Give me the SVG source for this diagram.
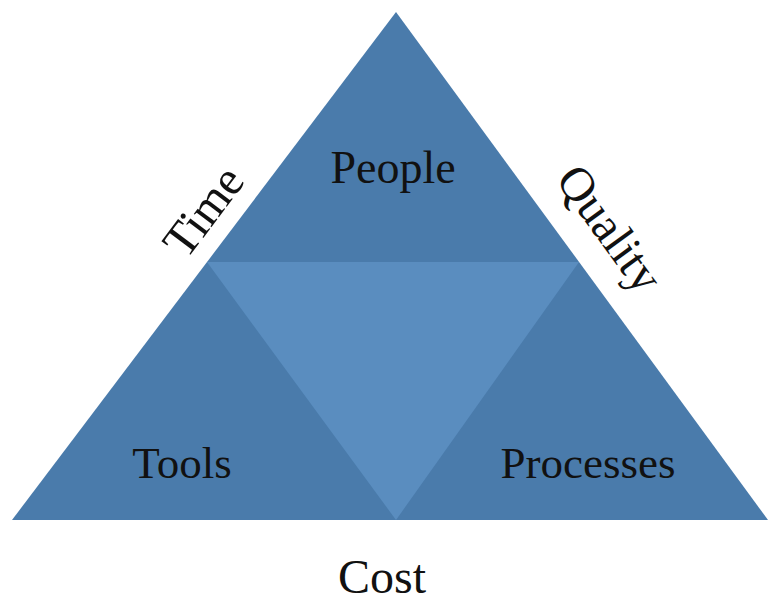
<svg xmlns="http://www.w3.org/2000/svg" width="768" height="605" viewBox="0 0 768 605">
<style>
.t{font-family:"Liberation Serif","Times New Roman",serif;fill:#111;text-anchor:middle}
</style>
<rect width="768" height="605" fill="#fff"/>
<g id="pyramid">
<polygon points="396,12 12,520 768,520" fill="#4a7bab"/>
</g>
<g id="center">
<polygon points="207,262 579,262 396,520" fill="#5a8dbf"/>
</g>
<g id="people"><text class="t" x="393" y="183" font-size="46">People</text></g>
<g id="tools"><text class="t" x="182" y="478" font-size="45">Tools</text></g>
<g id="processes"><text class="t" x="588" y="478" font-size="45">Processes</text></g>
<g id="cost"><text class="t" x="382" y="593" font-size="48">Cost</text></g>
<g id="time"><text class="t" font-size="48" transform="translate(216,221) rotate(-53)">Time</text></g>
<g id="quality"><text class="t" font-size="48" transform="translate(597,238) rotate(54)">Quality</text></g>
<g id="connectors"></g>
</svg>
